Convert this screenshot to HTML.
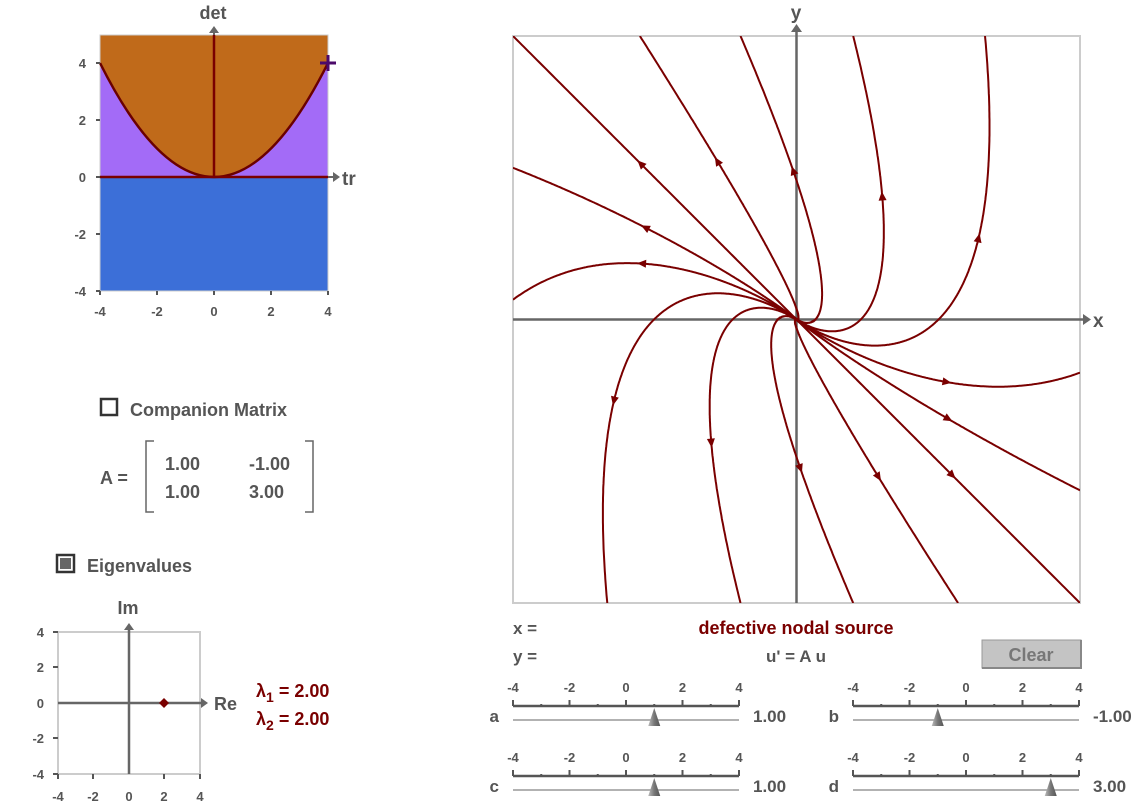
<!DOCTYPE html>
<html><head><meta charset="utf-8"><style>
body{margin:0;background:#fff;}
svg text{font-family:"Liberation Sans",sans-serif;font-weight:bold;fill:#555;}
</style></head><body>
<svg id="s" width="1143" height="807" viewBox="0 0 1143 807" xmlns="http://www.w3.org/2000/svg">
<defs><clipPath id="pc"><rect x="513" y="36" width="567" height="567"/></clipPath>
<linearGradient id="th" x1="0" x2="1"><stop offset="0" stop-color="#bbb"/><stop offset="0.5" stop-color="#777"/><stop offset="1" stop-color="#555"/></linearGradient></defs>
<rect x="100" y="35" width="228" height="142" fill="#a36bf7"/>
<path d="M100,63 Q214,291 328,63 L328,35 L100,35 Z" fill="#c06a1a"/>
<rect x="100" y="177" width="228" height="114" fill="#3c6fd8"/>
<rect x="100" y="35" width="228" height="256" fill="none" stroke="#ccc" stroke-width="1"/>
<path d="M100,63 Q214,291 328,63" fill="none" stroke="#6a0000" stroke-width="2.5"/>
<line x1="214" y1="177" x2="214" y2="35" stroke="#7a0000" stroke-width="2.5"/>
<line x1="100" y1="177" x2="328" y2="177" stroke="#7a0000" stroke-width="2.5"/>
<line x1="214" y1="35" x2="214" y2="30" stroke="#666" stroke-width="2"/><path d="M209,33 L214,26 L219,33Z" fill="#666"/>
<line x1="328" y1="177" x2="335" y2="177" stroke="#666" stroke-width="2"/><path d="M333,172 L340,177 L333,182Z" fill="#666"/>
<text x="213" y="19" font-size="18" text-anchor="middle">det</text>
<text x="342" y="185" font-size="19">tr</text>
<path d="M320,63 H336 M328,55 V71" stroke="#4b0a6a" stroke-width="3"/>
<g stroke="#555" stroke-width="2">
<line x1="96" y1="63" x2="100" y2="63"/><line x1="96" y1="120" x2="100" y2="120"/><line x1="96" y1="177" x2="100" y2="177"/><line x1="96" y1="234" x2="100" y2="234"/><line x1="96" y1="291" x2="100" y2="291"/>
<line x1="100" y1="291" x2="100" y2="295"/><line x1="157" y1="291" x2="157" y2="295"/><line x1="214" y1="291" x2="214" y2="295"/><line x1="271" y1="291" x2="271" y2="295"/><line x1="328" y1="291" x2="328" y2="295"/>
</g>
<g font-size="13" text-anchor="end"><text x="86" y="68">4</text><text x="86" y="125">2</text><text x="86" y="182">0</text><text x="86" y="239">-2</text><text x="86" y="296">-4</text></g>
<g font-size="13" text-anchor="middle"><text x="100" y="316">-4</text><text x="157" y="316">-2</text><text x="214" y="316">0</text><text x="271" y="316">2</text><text x="328" y="316">4</text></g>
<rect x="101" y="399" width="16" height="16" fill="none" stroke="#333" stroke-width="2.5"/>
<text x="130" y="416" font-size="18">Companion Matrix</text>
<text x="100" y="484" font-size="18">A =</text>
<path d="M154,441 H146 V512 H154 M305,441 H313 V512 H305" fill="none" stroke="#666" stroke-width="1.5"/>
<g font-size="18"><text x="165" y="470">1.00</text><text x="249" y="470">-1.00</text><text x="165" y="498">1.00</text><text x="249" y="498">3.00</text></g>
<rect x="57" y="555" width="17" height="17" fill="#fff" stroke="#333" stroke-width="2.5"/><rect x="60" y="558" width="11" height="11" fill="#666"/>
<text x="87" y="572" font-size="18">Eigenvalues</text>
<rect x="58" y="632" width="142" height="142" fill="none" stroke="#ccc" stroke-width="2"/>
<line x1="58" y1="703" x2="203" y2="703" stroke="#666" stroke-width="2.5"/><path d="M201,698 L208,703 L201,708Z" fill="#666"/>
<line x1="129" y1="774" x2="129" y2="628" stroke="#666" stroke-width="2.5"/><path d="M124,630 L129,623 L134,630Z" fill="#666"/>
<path d="M164,698 L169,703 L164,708 L159,703Z" fill="#7a0000"/>
<text x="128" y="614" font-size="18" text-anchor="middle">Im</text>
<text x="214" y="710" font-size="18">Re</text>
<g font-size="13" text-anchor="end"><text x="44" y="637">4</text><text x="44" y="672">2</text><text x="44" y="708">0</text><text x="44" y="743">-2</text><text x="44" y="779">-4</text></g>
<g font-size="13" text-anchor="middle"><text x="58" y="801">-4</text><text x="93" y="801">-2</text><text x="129" y="801">0</text><text x="164" y="801">2</text><text x="200" y="801">4</text></g>
<g stroke="#555" stroke-width="2"><line x1="53" y1="632" x2="58" y2="632"/><line x1="53" y1="667" x2="58" y2="667"/><line x1="53" y1="738" x2="58" y2="738"/><line x1="53" y1="774" x2="58" y2="774"/><line x1="58" y1="774" x2="58" y2="779"/><line x1="93" y1="774" x2="93" y2="779"/><line x1="164" y1="774" x2="164" y2="779"/><line x1="200" y1="774" x2="200" y2="779"/></g>
<g font-size="18"><text x="256" y="697" style="fill:#7a0000">λ<tspan font-size="14" dy="5">1</tspan><tspan dy="-5"> = 2.00</tspan></text>
<text x="256" y="725" style="fill:#7a0000">λ<tspan font-size="14" dy="5">2</tspan><tspan dy="-5"> = 2.00</tspan></text></g>
<rect x="513" y="36" width="567" height="567" fill="none" stroke="#ccc" stroke-width="2"/>
<line x1="513" y1="319.5" x2="1085" y2="319.5" stroke="#666" stroke-width="2.5"/><path d="M1083,314 L1091,319.5 L1083,325Z" fill="#666"/>
<line x1="796.5" y1="603" x2="796.5" y2="30" stroke="#666" stroke-width="2.5"/><path d="M791,32 L796.5,24 L802,32Z" fill="#666"/>
<text x="796" y="19" font-size="19" text-anchor="middle">y</text>
<text x="1093" y="327" font-size="19">x</text>
<g id="traj" clip-path="url(#pc)"></g>
<text x="513" y="634" font-size="17">x =</text>
<text x="796" y="634" font-size="18" text-anchor="middle" style="fill:#7a0000">defective nodal source</text>
<text x="513" y="662" font-size="17">y =</text>
<text x="796" y="662" font-size="17" text-anchor="middle">u' = A u</text>
<rect x="982" y="640" width="99" height="28" fill="#c4c4c4" stroke="#999" stroke-width="1"/>
<path d="M982,668 H1081 V640" fill="none" stroke="#888" stroke-width="2"/>
<text x="1031" y="661" font-size="18" text-anchor="middle" style="fill:#777">Clear</text>
<g id="sl"></g>
</svg>
<script>
var NS="http://www.w3.org/2000/svg";
function el(t,a,p){var e=document.createElementNS(NS,t);for(var k in a)e.setAttribute(k,a[k]);(p||document.getElementById('s')).appendChild(e);return e;}
var S=70.875,ox=796.5,oy=319.5,g=document.getElementById('traj');
var ex=[[-4,4],[-2.21,4],[-0.79,4],[0.80,4],[2.66,4],[-4,2.14],[-4,0.28],[-2.67,-4],[-0.79,-4],[0.80,-4],[2.28,-4],[4,-4],[4,-0.75],[4,-2.41]];
ex.forEach(function(u){
 var pts=[];var x0=u[0],y0=u[1],s=x0+y0;
 for(var t=0;t>-12;t-=0.004){var e=Math.exp(2*t);var x=e*(x0-t*s),y=e*(y0+t*s);pts.push([ox+x*S,oy-y*S]);if(Math.hypot(x,y)<0.0005)break;}
 pts.push([ox,oy]);
 var d="M"+pts.map(function(p){return p[0].toFixed(1)+","+p[1].toFixed(1)}).join("L");
 el('path',{d:d,fill:'none',stroke:'#7a0000','stroke-width':2},g);
 var L=0,ls=[0];for(var i=1;i<pts.length;i++){L+=Math.hypot(pts[i][0]-pts[i-1][0],pts[i][1]-pts[i-1][1]);ls.push(L);}
 var tgt=L*0.45,j=1;while(ls[j]<tgt)j++;
 var p=pts[j],q=pts[Math.max(0,j-3)];var a=Math.atan2(q[1]-p[1],q[0]-p[0]);
 var c=Math.cos(a),sn=Math.sin(a);function R(dx,dy){return (p[0]+dx*c-dy*sn).toFixed(1)+","+(p[1]+dx*sn+dy*c).toFixed(1);}
 el('path',{d:"M"+R(5,0)+"L"+R(-4,-4)+"L"+R(-4,4)+"Z",fill:'#7a0000'},g);
});
var sl=document.getElementById('sl');
function slider(x0,yb,lab,val){
 var w=226;
 [-4,-2,0,2,4].forEach(function(v,i){var tx=el('text',{x:x0+i*w/4,y:yb-14,'font-size':13,'text-anchor':'middle'},sl);tx.textContent=v;});
 el('line',{x1:x0,y1:yb,x2:x0+w,y2:yb,stroke:'#555','stroke-width':2.5},sl);
 for(var i=0;i<=8;i++){el('line',{x1:x0+i*w/8,y1:yb,x2:x0+i*w/8,y2:yb-(i%2?2:6),stroke:'#555','stroke-width':2},sl);}
 el('line',{x1:x0,y1:yb+14,x2:x0+w,y2:yb+14,stroke:'#999','stroke-width':1.5},sl);
 var tx=x0+(val+4)/8*w;
 el('path',{d:"M"+tx+","+(yb+2)+" L"+(tx+6)+","+(yb+20)+" L"+(tx-6)+","+(yb+20)+"Z",fill:'url(#th)'},sl);
 var t=el('text',{x:x0-14,y:yb+16,'font-size':17,'text-anchor':'end'},sl);t.textContent=lab;
 var v=el('text',{x:x0+w+14,y:yb+16,'font-size':17},sl);v.textContent=val.toFixed(2);
}
slider(513,706,'a',1);slider(853,706,'b',-1);slider(513,776,'c',1);slider(853,776,'d',3);
</script>
</body></html>
